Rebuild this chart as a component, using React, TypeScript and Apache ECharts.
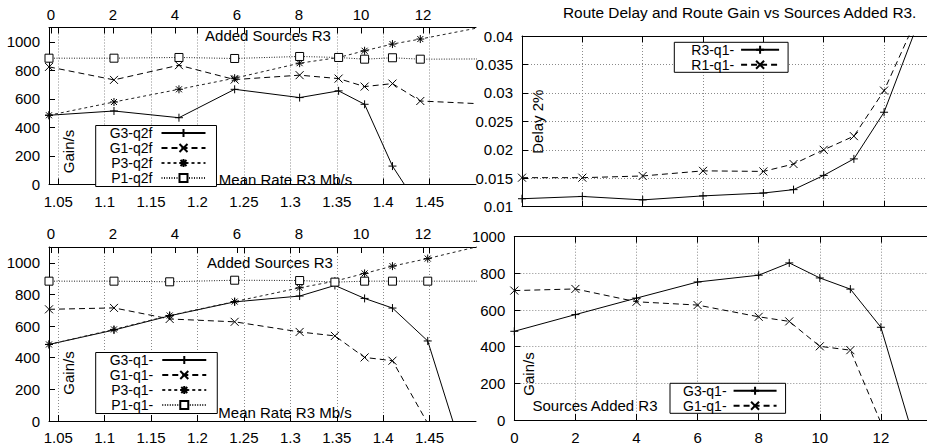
import React, { useEffect, useRef } from "react";
import * as echarts from "echarts";

const FONT = '"Liberation Sans", Arial, Helvetica, sans-serif';

// ---- Top-left panel: gain vs mean rate (q2f) ----
const rateQ2f = [1.04, 1.11, 1.18, 1.24, 1.31, 1.352, 1.38, 1.41, 1.44, 1.52];
const g3Q2f = [485, 515, 468, 667, 609, 656, 562, 129, -171, null];
const g1Q2f = [824, 733, 836, 735, 766, 742, 686, 707, 585, 561];
const p3Q2f = [485, 578, 667, 745, 850, 890, 937, 984, 1019, 1120];
const p1Q2f = [885, 885, 890, 883, 897, 890, 878, 888, 878, 880];

// ---- Bottom-left / bottom-right panels: gain (q1-) ----
const sourcesQ1 = [0, 2, 4, 6, 8, 9, 10, 11, 12, 13];
const rateQ1 = [1.04, 1.11, 1.17, 1.24, 1.31, 1.348, 1.38, 1.41, 1.448, 1.478];
const g3Q1 = [484, 575, 665, 753, 790, 857, 775, 714, 506, -56];
const g1Q1 = [706, 715, 645, 627, 563, 538, 402, 381, -15, null];
const ratePQ1 = [1.04, 1.11, 1.17, 1.24, 1.31, 1.348, 1.38, 1.41, 1.448, 1.52];
const p3Q1 = [484, 579, 667, 755, 842, 884, 933, 979, 1027, 1128];
const p1Q1 = [884, 884, 880, 890, 888, 878, 884, 884, 884, 884];

// ---- Top-right panel: route delay ----
const delayR3 = [0.0114, 0.0118, 0.0112, 0.0119, 0.0124, 0.013, 0.0155, 0.0184, 0.0266, 0.0405];
const delayR1 = [0.0151, 0.0151, 0.0154, 0.0163, 0.0162, 0.0175, 0.02, 0.0224, 0.0304, 0.0421];

// ---- Tick labels ----
const rateTicks = [1.05, 1.1, 1.15, 1.2, 1.25, 1.3, 1.35, 1.4, 1.45];
const sourceTicks = [0, 2, 4, 6, 8, 10, 12];
const gainTicks = [0, 200, 400, 600, 800, 1000];

const TITLE = "Route Delay and Route Gain vs Sources Added R3.";

const PLUS = "path://M0,-1L0,1M-1,0L1,0";
const CROSS = "path://M-1,-1L1,1M-1,1L1,-1";
const STAR = "path://M0,-1L0,1M-1,0L1,0M-0.75,-0.75L0.75,0.75M-0.75,0.75L0.75,-0.75";
const SQUARE = "path://M-1,-1L1,-1L1,1L-1,1Z";

const KIND: Record<string, any> = {
  G3: { symbol: PLUS, type: "solid", color: "#000", fill: "#000" },
  G1: { symbol: CROSS, type: [6, 4], color: "#000", fill: "#000" },
  P3: { symbol: STAR, type: [3, 3], color: "#222", fill: "#000" },
  P1: { symbol: SQUARE, type: [1, 1.5], color: "#222", fill: "#fff" },
};

function lineSeries(name: string, xs: number[], ys: (number | null)[], xi: number, yi: number, kind: string) {
  const k = KIND[kind];
  const data = xs.map((x, i) => [x, ys[i]]).filter((d) => d[1] != null);
  return {
    type: "line",
    name,
    xAxisIndex: xi,
    yAxisIndex: yi,
    data,
    symbol: k.symbol,
    symbolSize: 8,
    showSymbol: true,
    clip: true,
    silent: true,
    lineStyle: { color: k.color, width: 1, type: k.type },
    itemStyle: { color: k.fill, borderColor: "#000", borderWidth: 1 },
    emphasis: { disabled: true },
    z: 3,
  };
}

const labelStyle = { color: "#000", fontSize: 15, fontFamily: FONT, formatter: (v: number) => String(v) };
const axisLine = { show: true, onZero: false, lineStyle: { color: "#000", width: 1 } };
const tick = { show: true, inside: true, length: 6, lineStyle: { color: "#000", width: 1 } };
const grid = { show: true, lineStyle: { color: "#8a8a8a", width: 1, type: [1, 2] } };

function leftAxes(gi: number) {
  const rateMin = 1.04;
  const rateMax = 1.5;
  return [
    {
      type: "value", gridIndex: gi, position: "bottom", min: rateMin, max: rateMax,
      axisLine, axisTick: { ...tick, customValues: rateTicks },
      axisLabel: { ...labelStyle, margin: 9, customValues: rateTicks },
      splitLine: grid,
    },
    {
      type: "value", gridIndex: gi, position: "top", min: -0.0645, max: 13.71,
      axisLine, axisTick: { ...tick, customValues: sourceTicks },
      axisLabel: { ...labelStyle, margin: 6, customValues: sourceTicks },
      splitLine: { show: false },
    },
    {
      type: "value", gridIndex: gi, position: "top", min: rateMin, max: rateMax,
      axisLine: { ...axisLine, show: false }, axisTick: { ...tick, customValues: rateTicks },
      axisLabel: { show: false }, splitLine: { show: false },
    },
  ];
}

function rightAxes(gi: number, showLabels: boolean) {
  return [
    {
      type: "value", gridIndex: gi, position: "bottom", min: 0, max: 14, interval: 2,
      axisLine, axisTick: tick,
      axisLabel: showLabels ? { ...labelStyle, margin: 10, customValues: sourceTicks } : { show: false },
      splitLine: grid,
    },
    {
      type: "value", gridIndex: gi, position: "top", min: 0, max: 14, interval: 2,
      axisLine, axisTick: tick, axisLabel: { show: false }, splitLine: { show: false },
    },
  ];
}

function legend(names: string[], left: number, top: number, itemWidth: number, lineHeight: number, padding: number[], textPad: number) {
  return {
    data: names,
    orient: "vertical",
    align: "right",
    left,
    top,
    itemWidth,
    itemHeight: 10,
    itemGap: 0,
    padding,
    selectedMode: false,
    backgroundColor: "#fff",
    borderColor: "#000",
    borderWidth: 1,
    borderRadius: 0,
    textStyle: { color: "#000", fontSize: 14, fontFamily: FONT, lineHeight, padding: [0, textPad, 0, 0] },
    z: 10,
  };
}

function text(str: string, x: number, y: number, rotate = false) {
  return {
    type: "text",
    x,
    y,
    rotation: rotate ? Math.PI / 2 : 0,
    z: 20,
    silent: true,
    style: {
      text: str,
      fill: "#000",
      font: `15px ${FONT}`,
      align: "center",
      verticalAlign: "middle",
      textAlign: "center",
      textVerticalAlign: "middle",
    },
  };
}

function buildOption() {
  return {
    animation: false,
    backgroundColor: "#fff",
    title: {
      text: TITLE,
      left: 563,
      top: 5,
      padding: 0,
      textStyle: { color: "#000", fontSize: 15.4, fontWeight: "normal", fontFamily: FONT },
    },
    grid: [
      { left: 49, top: 27.5, width: 427, height: 157, outerBoundsMode: "none", containLabel: false },
      { left: 49, top: 247, width: 427, height: 174, outerBoundsMode: "none", containLabel: false },
      { left: 522, top: 36, width: 422.4, height: 170.7, outerBoundsMode: "none", containLabel: false },
      { left: 514.3, top: 236.7, width: 427.7, height: 183.3, outerBoundsMode: "none", containLabel: false },
    ],
    xAxis: [...leftAxes(0), ...leftAxes(1), ...rightAxes(2, false), ...rightAxes(3, true)],
    yAxis: [
      {
        type: "value", gridIndex: 0, min: 0, max: 1100, axisLine,
        axisTick: { ...tick, customValues: gainTicks },
        axisLabel: { ...labelStyle, margin: 9, customValues: gainTicks }, splitLine: { show: false },
      },
      {
        type: "value", gridIndex: 1, min: 0, max: 1100, axisLine,
        axisTick: { ...tick, customValues: gainTicks },
        axisLabel: { ...labelStyle, margin: 9, customValues: gainTicks }, splitLine: { show: false },
      },
      {
        type: "value", gridIndex: 2, min: 0.01, max: 0.04, interval: 0.005, axisLine,
        axisTick: tick, axisLabel: { ...labelStyle, margin: 9 }, splitLine: grid,
      },
      {
        type: "value", gridIndex: 3, min: 0, max: 1000, interval: 200, axisLine,
        axisTick: tick, axisLabel: { ...labelStyle, margin: 9 }, splitLine: grid,
      },
    ],
    legend: [
      legend(["G3-q2f", "G1-q2f", "P3-q2f", "P1-q2f"], 95.7, 125.5, 44, 15, [0, 10, 1, 14], 4),
      legend(["G3-q1-", "G1-q1-", "P3-q1-", "P1-q1-"], 95.7, 352.5, 44, 15, [0, 10, 1, 14], 4),
      legend(["R3-q1-", "R1-q1-"], 674.3, 42.3, 38, 15, [0, 8, 0, 17], 2),
      legend(["G3-q1-", "G1-q1-"], 670, 383.3, 43, 15, [0, 8, 0, 13], 2),
    ],
    graphic: {
      elements: [
        text("Added Sources R3", 268, 35),
        text("Mean Rate R3 Mb/s", 285.5, 179),
        text("Gain/s", 68.5, 151.5, true),
        text("Added Sources R3", 270, 262.5),
        text("Mean Rate R3 Mb/s", 285, 412),
        text("Gain/s", 68.5, 373, true),
        text("Delay 2%", 537, 121.7, true),
        text("Gain/s", 528.5, 374, true),
        text("Sources Added R3", 595, 405),
      ],
    },
    series: [
      lineSeries("G3-q2f", rateQ2f, g3Q2f, 0, 0, "G3"),
      lineSeries("G1-q2f", rateQ2f, g1Q2f, 0, 0, "G1"),
      lineSeries("P3-q2f", rateQ2f, p3Q2f, 0, 0, "P3"),
      lineSeries("P1-q2f", rateQ2f, p1Q2f, 0, 0, "P1"),
      lineSeries("G3-q1-", rateQ1, g3Q1, 3, 1, "G3"),
      lineSeries("G1-q1-", rateQ1, g1Q1, 3, 1, "G1"),
      lineSeries("P3-q1-", ratePQ1, p3Q1, 3, 1, "P3"),
      lineSeries("P1-q1-", ratePQ1, p1Q1, 3, 1, "P1"),
      lineSeries("R3-q1-", sourcesQ1, delayR3, 6, 2, "G3"),
      lineSeries("R1-q1-", sourcesQ1, delayR1, 6, 2, "G1"),
      lineSeries("G3-q1-", sourcesQ1, g3Q1, 8, 3, "G3"),
      lineSeries("G1-q1-", sourcesQ1, g1Q1, 8, 3, "G1"),
    ],
  };
}

export default function App() {
  const ref = useRef<HTMLDivElement>(null);
  useEffect(() => {
    if (!ref.current) return;
    const chart = echarts.init(ref.current, undefined, { renderer: "svg" });
    chart.setOption(buildOption() as any);
    return () => chart.dispose();
  }, []);
  return (
    <div
      ref={ref}
      style={{ position: "fixed", left: 0, top: 0, width: 927, height: 446, background: "#fff" }}
    />
  );
}
